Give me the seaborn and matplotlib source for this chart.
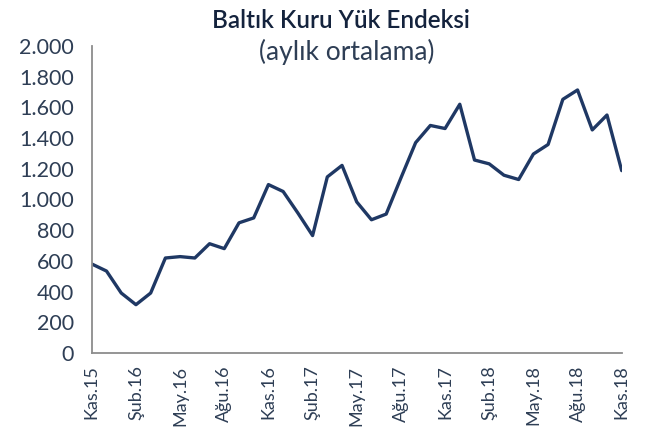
import matplotlib.pyplot as plt
import matplotlib.ticker as mticker
import pandas as pd
import seaborn as sns

months = [
    "Kas.15", "Ara.15", "Oca.16", "Şub.16", "Mar.16", "Nis.16", "May.16", "Haz.16",
    "Tem.16", "Ağu.16", "Eyl.16", "Eki.16", "Kas.16", "Ara.16", "Oca.17", "Şub.17",
    "Mar.17", "Nis.17", "May.17", "Haz.17", "Tem.17", "Ağu.17", "Eyl.17", "Eki.17",
    "Kas.17", "Ara.17", "Oca.18", "Şub.18", "Mar.18", "Nis.18", "May.18", "Haz.18",
    "Tem.18", "Ağu.18", "Eyl.18", "Eki.18", "Kas.18",
]
bdi = [
    580, 534, 391, 315, 391, 619, 628, 619,
    712, 680, 848, 880, 1097, 1052, 912, 765,
    1147, 1222, 984, 868, 905, 1140, 1370, 1482,
    1462, 1620, 1257, 1232, 1158, 1130, 1296, 1358,
    1652, 1713, 1453, 1550, 1188,
]

navy = "#1f3864"
grey = "#8c8c8c"
label_col = "#2e3e55"

df = pd.DataFrame({"idx": range(len(months)), "bdi": bdi})

sns.set_style("white")
plt.rcParams["font.family"] = ["Lato", "DejaVu Sans"]

fig = plt.figure(figsize=(6.51, 4.29), dpi=100)
ax = fig.add_axes([0.141, 0.177, 0.814, 0.716])

sns.lineplot(data=df, x="idx", y="bdi", ax=ax, color=navy, linewidth=2.4)

ax.set_xlim(0, len(months) - 1)
ax.set_ylim(0, 2000)
ax.set_yticks(range(0, 2001, 200))
ax.yaxis.set_major_formatter(
    mticker.FuncFormatter(lambda v, p: f"{int(v):,}".replace(",", "."))
)
ticks = list(range(0, len(months), 3))
ax.set_xticks(ticks)
ax.set_xticklabels([months[i] for i in ticks], rotation=90)
ax.set_xlabel("")
ax.set_ylabel("")

for s in ["top", "right"]:
    ax.spines[s].set_visible(False)
for s in ["left", "bottom"]:
    ax.spines[s].set_color(grey)
    ax.spines[s].set_linewidth(1.3)
ax.tick_params(axis="both", colors=grey, length=5, width=1.3, direction="out")
ax.tick_params(axis="y", labelsize=15.5, labelcolor=label_col, pad=8)
ax.tick_params(axis="x", labelsize=13, labelcolor=label_col, pad=4)

fig.text(0.523, 0.952, "Baltık Kuru Yük Endeksi", ha="center", va="center",
         fontsize=17.5, fontweight="semibold", color="#14233d")
fig.text(0.533, 0.878, "(aylık ortalama)", ha="center", va="center",
         fontsize=19, color=label_col)

fig.savefig("out.png", dpi=100)
